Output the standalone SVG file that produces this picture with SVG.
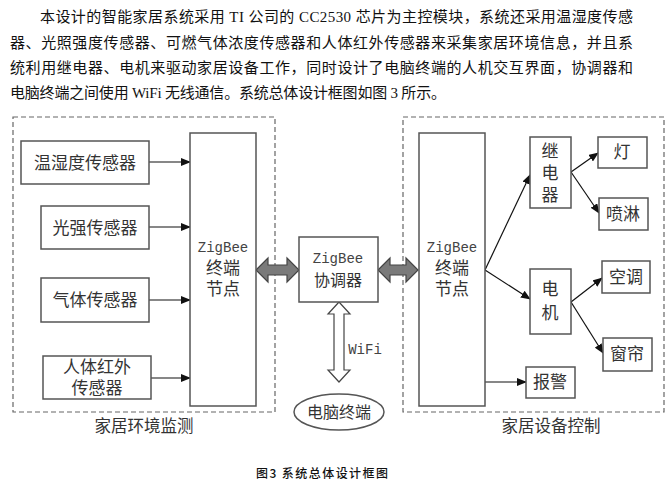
<svg xmlns="http://www.w3.org/2000/svg" width="672" height="486" viewBox="0 0 672 486">
<defs>
<style>
.para{font-family:"Liberation Serif","Noto Sans CJK SC",serif;font-size:15px;fill:#111}
.cap{font-family:"Noto Sans CJK SC",sans-serif;font-size:12px;fill:#111;font-weight:500}
.box{fill:#fff;stroke:#555;stroke-width:1.5}
.dash{fill:none;stroke:#666;stroke-width:1.2;stroke-dasharray:5,3}
.t{font-family:"Liberation Serif","Noto Sans CJK SC",serif;font-size:17px;fill:#333;text-anchor:middle;dominant-baseline:central}
.m{font-family:"Liberation Mono","Noto Sans CJK SC",monospace;font-size:14px;fill:#444;text-anchor:middle;dominant-baseline:central}
.lbl{font-family:"Noto Sans CJK SC",sans-serif;font-size:16.5px;fill:#333;text-anchor:middle;dominant-baseline:central}
.ln{stroke:#111;stroke-width:1.2;fill:none}
.fat{fill:#7a7a7a;stroke:#444;stroke-width:1.2}
.hol{fill:#fff;stroke:#444;stroke-width:1.2}
</style>
<marker id="ah" markerWidth="10" markerHeight="8" refX="9" refY="4" orient="auto" markerUnits="userSpaceOnUse">
<path d="M0,0 L10,4 L0,8 Z" fill="#111"/>
</marker>
</defs>
<rect width="672" height="486" fill="#fff"/>
<g id="paragraph">
<text class="para" x="40" y="22" textLength="593" lengthAdjust="spacing">本设计的智能家居系统采用 TI 公司的 CC2530 芯片为主控模块，系统还采用温湿度传感</text>
<text class="para" x="10" y="48" textLength="623" lengthAdjust="spacing">器、光照强度传感器、可燃气体浓度传感器和人体红外传感器来采集家居环境信息，并且系</text>
<text class="para" x="10" y="73" textLength="623" lengthAdjust="spacing">统利用继电器、电机来驱动家居设备工作，同时设计了电脑终端的人机交互界面，协调器和</text>
<text class="para" x="10" y="98" textLength="436" lengthAdjust="spacing">电脑终端之间使用 WiFi 无线通信。系统总体设计框图如图 3 所示。</text>
</g>
<g id="group-monitor">
<rect class="dash" x="13" y="117" width="262" height="295"/>
<text class="lbl" x="144" y="425">家居环境监测</text>
</g>
<g id="group-control">
<rect class="dash" x="403" y="117" width="261" height="295"/>
<text class="lbl" x="551" y="425">家居设备控制</text>
</g>
<g id="connectors">
<line class="ln" x1="149" y1="162" x2="190" y2="162" marker-end="url(#ah)"/>
<line class="ln" x1="149" y1="227" x2="190" y2="227" marker-end="url(#ah)"/>
<line class="ln" x1="149" y1="300" x2="190" y2="300" marker-end="url(#ah)"/>
<line class="ln" x1="151" y1="378" x2="190" y2="378" marker-end="url(#ah)"/>
<line class="ln" x1="485" y1="270" x2="530" y2="175" marker-end="url(#ah)"/>
<line class="ln" x1="485" y1="270" x2="530" y2="299" marker-end="url(#ah)"/>
<line class="ln" x1="485" y1="382" x2="526" y2="382" marker-end="url(#ah)"/>
<line class="ln" x1="571" y1="172" x2="598" y2="153" marker-end="url(#ah)"/>
<line class="ln" x1="571" y1="172" x2="599" y2="213" marker-end="url(#ah)"/>
<line class="ln" x1="571" y1="302" x2="602" y2="278" marker-end="url(#ah)"/>
<line class="ln" x1="571" y1="302" x2="603" y2="353" marker-end="url(#ah)"/>
<polygon class="fat" points="256,270 268,258 268,265 287,265 287,258 299,270 287,282 287,275 268,275 268,282"/>
<polygon class="fat" points="378,270 390,258 390,265 406,265 406,258 418,270 406,282 406,275 390,275 390,282"/>
<polygon class="hol" points="339,302 350,314 344,314 344,370 350,370 339,382 328,370 334,370 334,314 328,314"/>
<text class="m" x="365" y="350">WiFi</text>
</g>
<g id="sensor-temp">
<rect class="box" x="21" y="141" width="128" height="43"/>
<text class="t" x="85" y="163">温湿度传感器</text>
</g>
<g id="sensor-light">
<rect class="box" x="41" y="206" width="108" height="43"/>
<text class="t" x="95" y="228">光强传感器</text>
</g>
<g id="sensor-gas">
<rect class="box" x="41" y="278" width="108" height="44"/>
<text class="t" x="95" y="300">气体传感器</text>
</g>
<g id="sensor-ir">
<rect class="box" x="43" y="356" width="108" height="43"/>
<text class="t" x="97" y="367">人体红外</text>
<text class="t" x="97" y="388">传感器</text>
</g>
<g id="zigbee-end-left">
<rect class="box" x="190" y="133" width="66" height="273"/>
<text class="m" x="223" y="248">ZigBee</text>
<text class="t" x="223" y="268">终端</text>
<text class="t" x="223" y="289">节点</text>
</g>
<g id="coordinator">
<rect class="box" x="299" y="237" width="79" height="65"/>
<text class="m" x="338" y="259">ZigBee</text>
<text class="t" x="338" y="280" style="font-size:16px">协调器</text>
</g>
<g id="pc-terminal">
<ellipse class="box" cx="339" cy="412" rx="45" ry="18"/>
<text class="t" x="339" y="412" style="font-size:16px">电脑终端</text>
</g>
<g id="zigbee-end-right">
<rect class="box" x="419" y="133" width="66" height="273"/>
<text class="m" x="452" y="248">ZigBee</text>
<text class="t" x="452" y="268">终端</text>
<text class="t" x="452" y="289">节点</text>
</g>
<g id="relay">
<rect class="box" x="530" y="137" width="41" height="71"/>
<text class="t" x="550" y="151">继</text>
<text class="t" x="550" y="173">电</text>
<text class="t" x="550" y="195">器</text>
</g>
<g id="motor">
<rect class="box" x="530" y="269" width="41" height="65"/>
<text class="t" x="550" y="289">电</text>
<text class="t" x="550" y="313">机</text>
</g>
<g id="lamp">
<rect class="box" x="598" y="137" width="49" height="31"/>
<text class="t" x="622" y="152">灯</text>
</g>
<g id="sprinkler">
<rect class="box" x="599" y="198" width="49" height="32"/>
<text class="t" x="623" y="214">喷淋</text>
</g>
<g id="aircon">
<rect class="box" x="602" y="261" width="48" height="32"/>
<text class="t" x="626" y="277">空调</text>
</g>
<g id="curtain">
<rect class="box" x="603" y="338" width="49" height="33"/>
<text class="t" x="627" y="354">窗帘</text>
</g>
<g id="alarm">
<rect class="box" x="526" y="367" width="49" height="31"/>
<text class="t" x="550" y="382">报警</text>
</g>
<g id="caption">
<text class="cap" x="256" y="478" textLength="132" lengthAdjust="spacing">图3  系统总体设计框图</text>
</g>
</svg>
